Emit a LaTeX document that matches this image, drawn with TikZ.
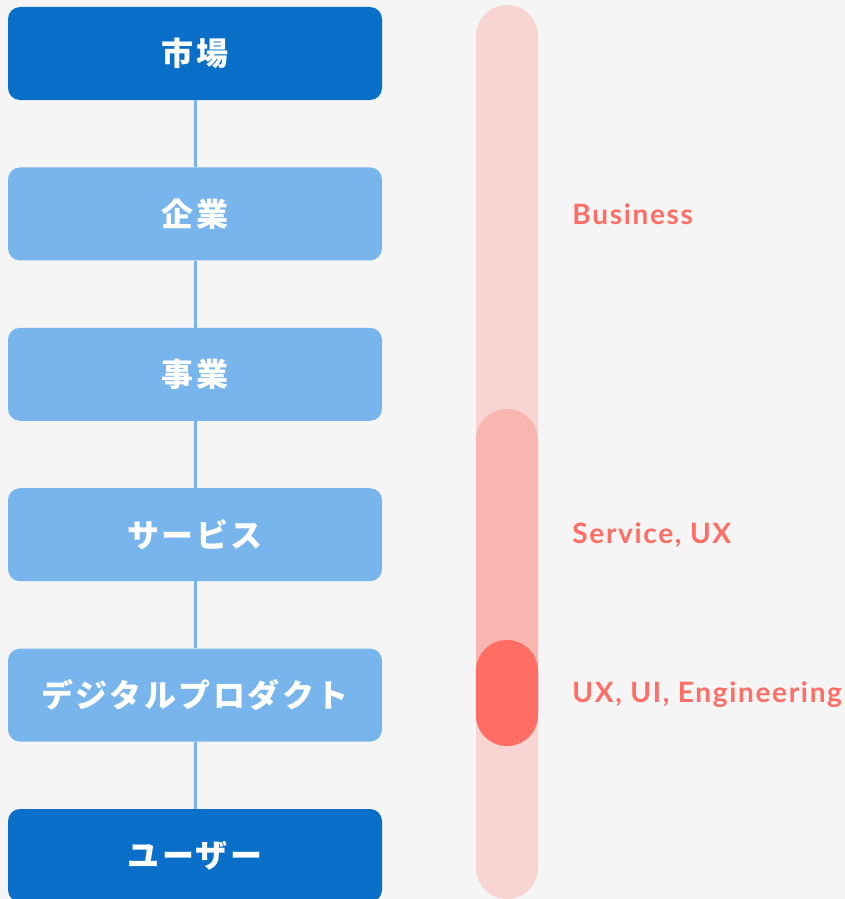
\documentclass[tikz,border=0pt]{standalone}
\usepackage{fontspec}
\usepackage{xcolor}
\setmainfont{Lato}
\newfontfamily\jpfont{Noto Sans CJK JP}[LetterSpace=8]
\newfontfamily\lblfont{Lato}[LetterSpace=6]
\usetikzlibrary{positioning}

\definecolor{bgcol}{HTML}{F5F5F5}
\definecolor{darkblue}{HTML}{0A6FC9}
\definecolor{lightblue}{HTML}{78B5EC}
\definecolor{trackpink}{HTML}{F8D4D2}
\definecolor{midpink}{HTML}{F9B5B0}
\definecolor{hotpink}{HTML}{FF6D64}

\begin{document}
\begin{tikzpicture}[
        x=1pt, y=-1pt,
        node distance=67pt,
        box/.style={rounded corners=12pt, fill=lightblue, minimum width=374pt, minimum height=93pt,
            inner sep=0pt, text=white, font=\jpfont\bfseries\fontsize{32}{36}\selectfont},
        topbox/.style={box, fill=darkblue},
        conn/.style={draw=lightblue, line width=3pt},
        lbl/.style={anchor=west, inner sep=0pt, text=hotpink, font=\lblfont\bfseries\fontsize{28}{32}\selectfont}
    ]
        % background and page size
        \useasboundingbox (0,0) rectangle (845,899);
        \fill[bgcol] (0,0) rectangle (845,899);

        % scale bars
        \fill[trackpink, rounded corners=31pt] (476,5) rectangle (538,899);
        \fill[midpink, rounded corners=31pt] (476,409) rectangle (538,746);
        \fill[hotpink, rounded corners=31pt] (476,640) rectangle (538,746);

        % levels
        \node[topbox] (market) at (195,53.5) {市場};
        \node[box, below=of market] (company) {企業};
        \node[box, below=of company] (business) {事業};
        \node[box, below=of business] (service) {サービス};
        \node[box, below=of service] (product) {デジタルプロダクト};
        \node[topbox, below=of product] (user) {ユーザー};

        \draw[conn] (market) -- (company);
        \draw[conn] (company) -- (business);
        \draw[conn] (business) -- (service);
        \draw[conn] (service) -- (product);
        \draw[conn] (product) -- (user);

        % labels
        \node[lbl] (bizlbl) at ([xshift=190pt]company.east) {Business};
        \node[lbl] (uxlbl) at ([xshift=190pt]service.east) {Service, UX};
        \node[lbl] (englbl) at ([xshift=190pt]product.east) {UX, UI, Engineering};
    \end{tikzpicture}
\end{document}
